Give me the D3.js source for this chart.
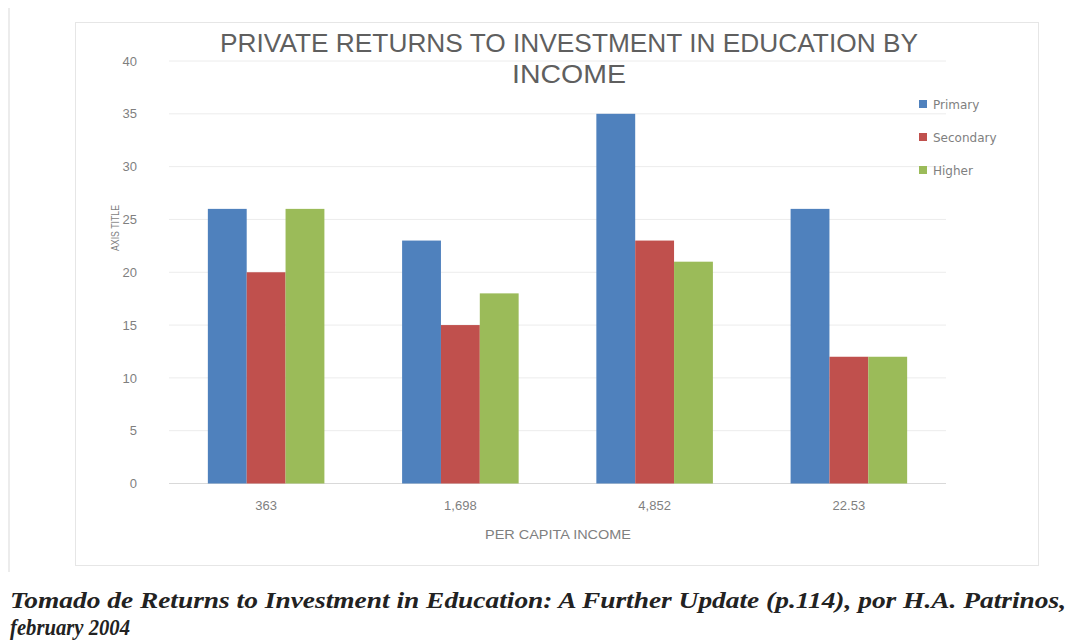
<!DOCTYPE html>
<html>
<head>
<meta charset="utf-8">
<script src="https://cdn.jsdelivr.net/npm/d3@7"></script>
<style>
  body { margin: 0; background: #fff; }
  svg { display: block; }
</style>
</head>
<body>
<svg id="chart"></svg>
<script>
const categories = ["363", "1,698", "4,852", "22.53"];
const seriesNames = ["Primary", "Secondary", "Higher"];
const primary = [26, 23, 35, 26];
const secondary = [20, 15, 23, 12];
const higher = [26, 18, 21, 12];
const yTicks = [0, 5, 10, 15, 20, 25, 30, 35, 40];
const colors = ["#4f81bd", "#c0504d", "#9bbb59"];

const W = 1070, H = 641;
const plot = { left: 169, right: 946, top: 61, bottom: 483.5 };
const font = "Liberation Sans, sans-serif";

const svg = d3.select("#chart").attr("width", W).attr("height", H);

// faint outer page line + chart frame
svg.append("line").attr("x1", 9).attr("x2", 9).attr("y1", 8).attr("y2", 572)
  .attr("stroke", "#ececec").attr("stroke-width", 2);
svg.append("rect").attr("x", 75.5).attr("y", 22.5).attr("width", 963).attr("height", 543)
  .attr("fill", "none").attr("stroke", "#e6e6e6");

const rows = categories.map((c, i) => ({ cat: c, vals: [primary[i], secondary[i], higher[i]] }));

const x = d3.scaleBand().domain(categories).range([plot.left, plot.right]).paddingInner(0.4).paddingOuter(0.2);
const xs = d3.scaleBand().domain(seriesNames).range([0, x.bandwidth()]);
const y = d3.scaleLinear().domain([0, 40]).range([plot.bottom, plot.top]);

// gridlines
svg.append("g")
  .selectAll("line").data(yTicks).join("line")
  .attr("x1", plot.left).attr("x2", plot.right)
  .attr("y1", d => y(d)).attr("y2", d => y(d))
  .attr("stroke", d => d === 0 ? "#d9d9d9" : "#ececec");

// y axis labels
const yAxis = svg.append("g").attr("transform", `translate(${plot.left - 32},0)`)
  .call(d3.axisLeft(y).tickValues(yTicks).tickSize(0).tickPadding(0));
yAxis.select(".domain").remove();
yAxis.selectAll("text").attr("fill", "#7f7f7f").style("font-family", font).style("font-size", "13px");

// bars
svg.append("g").selectAll("g").data(rows).join("g")
  .attr("transform", d => `translate(${x(d.cat)},0)`)
  .selectAll("rect").data(d => d.vals.map((v, k) => ({ key: seriesNames[k], v, k })))
  .join("rect")
  .attr("x", d => xs(d.key))
  .attr("width", xs.bandwidth())
  .attr("y", d => y(d.v))
  .attr("height", d => y(0) - y(d.v))
  .attr("fill", d => colors[d.k]);

// x axis labels
const xAxis = svg.append("g").attr("transform", `translate(0,${plot.bottom + 17})`)
  .call(d3.axisBottom(x).tickSize(0).tickPadding(0));
xAxis.select(".domain").remove();
xAxis.selectAll("text").attr("fill", "#7f7f7f").style("font-family", font).style("font-size", "13px");

svg.append("text").attr("x", 558).attr("y", 539).attr("text-anchor", "middle")
  .attr("fill", "#7f7f7f").style("font-family", font).style("font-size", "13px")
  .attr("textLength", 146).attr("lengthAdjust", "spacingAndGlyphs")
  .text("PER CAPITA INCOME");

svg.append("text").attr("transform", "translate(119,228) rotate(-90)").attr("text-anchor", "middle")
  .attr("fill", "#7f7f7f").style("font-family", font).style("font-size", "11px")
  .attr("textLength", 46).attr("lengthAdjust", "spacingAndGlyphs")
  .text("AXIS TITLE");

// title, condensed to the reference width
const title = svg.append("text").attr("text-anchor", "middle").attr("fill", "#5f5f5f")
  .style("font-family", font).style("font-size", "25px");
title.append("tspan").attr("x", 569).attr("y", 52).attr("textLength", 698).attr("lengthAdjust", "spacingAndGlyphs")
  .text("PRIVATE RETURNS TO INVESTMENT IN EDUCATION BY");
title.append("tspan").attr("x", 569).attr("y", 83).attr("textLength", 114).attr("lengthAdjust", "spacingAndGlyphs")
  .text("INCOME");

// legend
const legend = svg.append("g").selectAll("g").data(seriesNames).join("g")
  .attr("transform", (d, i) => `translate(919,${104 + i * 33})`);
legend.append("rect").attr("x", 0).attr("y", -4).attr("width", 8).attr("height", 8)
  .attr("fill", (d, i) => colors[i]);
legend.append("text").attr("x", 14).attr("y", 4.5).attr("fill", "#7f7f7f")
  .style("font-family", "DejaVu Sans, sans-serif").style("font-size", "12px").text(d => d);

// caption
const cap = svg.append("text").attr("fill", "#222")
  .style("font-family", "Liberation Serif, serif").style("font-style", "italic").style("font-weight", "bold")
  .style("font-size", "24px");
cap.append("tspan").attr("x", 10).attr("y", 608).attr("textLength", 1056).attr("lengthAdjust", "spacingAndGlyphs")
  .text("Tomado de Returns to Investment in Education: A Further Update (p.114), por H.A. Patrinos,");
cap.append("tspan").attr("x", 10).attr("y", 635).attr("textLength", 120).attr("lengthAdjust", "spacingAndGlyphs")
  .text("february 2004");
</script>
</body>
</html>
